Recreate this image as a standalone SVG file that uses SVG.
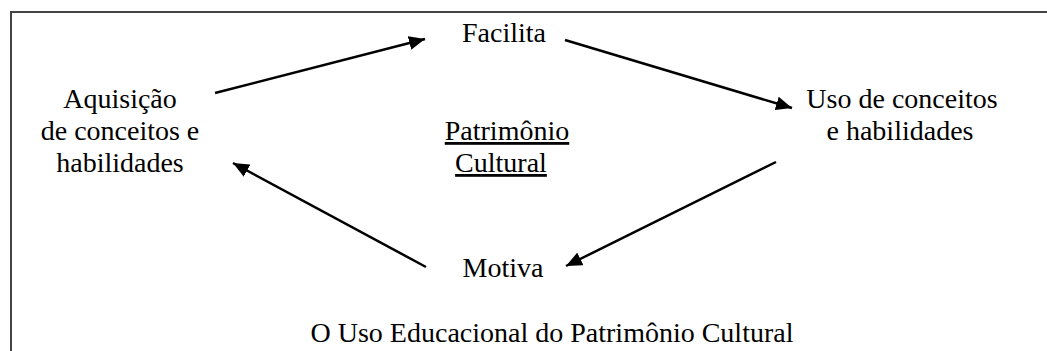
<svg xmlns="http://www.w3.org/2000/svg" width="1047" height="351" viewBox="0 0 1047 351">
<style>
text{font-family:"Liberation Serif","Times New Roman",serif;font-size:28px;fill:#000;text-anchor:middle}
.u{text-decoration:underline}
.c{stroke:#000;stroke-width:2.5;fill:none;marker-end:url(#ah)}
</style>
<defs>
<marker id="ah" markerUnits="userSpaceOnUse" markerWidth="18" markerHeight="14" refX="16" refY="7" orient="auto">
<path d="M0,0 L16,7 L0,14 Z" fill="#000"/>
</marker>
</defs>
<rect x="11" y="12" width="1100" height="400" fill="#fff" stroke="#444" stroke-width="2"/>
<g id="connectors">
<line class="c" x1="215" y1="93" x2="425" y2="39"/>
<line class="c" x1="565" y1="40" x2="792" y2="108"/>
<line class="c" x1="776" y1="162" x2="566" y2="266"/>
<line class="c" x1="426" y1="267" x2="233" y2="163"/>
</g>
<g id="aquisicao"><text x="120" y="108"><tspan x="120" y="108">Aquisição</tspan><tspan x="120" y="140">de conceitos e</tspan><tspan x="120" y="172">habilidades</tspan></text></g>
<g id="facilita"><text x="504" y="42">Facilita</text></g>
<g id="uso"><text x="902" y="108"><tspan x="902" y="108">Uso de conceitos</tspan><tspan x="900" y="140">e habilidades</tspan></text></g>
<g id="motiva"><text x="503" y="277">Motiva</text></g>
<g id="patrimonio"><text class="u" x="507" y="140"><tspan x="507" y="140">Patrimônio</tspan><tspan x="501" y="172">Cultural</tspan></text></g>
<g id="title"><text x="552" y="342">O Uso Educacional do Patrimônio Cultural</text></g>
</svg>
